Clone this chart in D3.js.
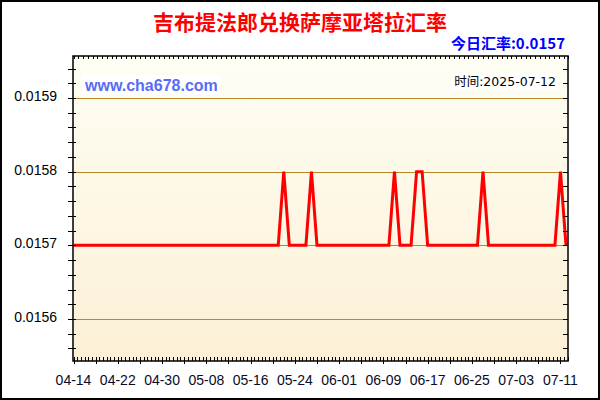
<!DOCTYPE html>
<html>
<head>
<meta charset="utf-8">
<script src="https://cdn.jsdelivr.net/npm/d3@7"></script>
<style>
  body { margin: 0; background: #fff; }
  svg { display: block; }
</style>
</head>
<body>
<div id="chart"></div>
<script>
// daily dates, 2025-04-14 .. 2025-07-12
const dates = [
  "04-14","04-15","04-16","04-17","04-18","04-19","04-20","04-21","04-22","04-23",
  "04-24","04-25","04-26","04-27","04-28","04-29","04-30","05-01","05-02","05-03",
  "05-04","05-05","05-06","05-07","05-08","05-09","05-10","05-11","05-12","05-13",
  "05-14","05-15","05-16","05-17","05-18","05-19","05-20","05-21","05-22","05-23",
  "05-24","05-25","05-26","05-27","05-28","05-29","05-30","05-31","06-01","06-02",
  "06-03","06-04","06-05","06-06","06-07","06-08","06-09","06-10","06-11","06-12",
  "06-13","06-14","06-15","06-16","06-17","06-18","06-19","06-20","06-21","06-22",
  "06-23","06-24","06-25","06-26","06-27","06-28","06-29","06-30","07-01","07-02",
  "07-03","07-04","07-05","07-06","07-07","07-08","07-09","07-10","07-11","07-12"
];

const rates = [
  0.0157,0.0157,0.0157,0.0157,0.0157,0.0157,0.0157,0.0157,0.0157,0.0157,
  0.0157,0.0157,0.0157,0.0157,0.0157,0.0157,0.0157,0.0157,0.0157,0.0157,
  0.0157,0.0157,0.0157,0.0157,0.0157,0.0157,0.0157,0.0157,0.0157,0.0157,
  0.0157,0.0157,0.0157,0.0157,0.0157,0.0157,0.0157,0.0157,0.0158,0.0157,
  0.0157,0.0157,0.0157,0.0158,0.0157,0.0157,0.0157,0.0157,0.0157,0.0157,
  0.0157,0.0157,0.0157,0.0157,0.0157,0.0157,0.0157,0.0157,0.0158,0.0157,
  0.0157,0.0157,0.0158,0.0158,0.0157,0.0157,0.0157,0.0157,0.0157,0.0157,
  0.0157,0.0157,0.0157,0.0157,0.0158,0.0157,0.0157,0.0157,0.0157,0.0157,
  0.0157,0.0157,0.0157,0.0157,0.0157,0.0157,0.0157,0.0157,0.0158,0.0157
];

const yTicks = [0.0156, 0.0157, 0.0158, 0.0159];
const xLabels = ["04-14","04-22","04-30","05-08","05-16","05-24","06-01","06-09","06-17","06-25","07-03","07-11"];

const titleText = "吉布提法郎兑换萨摩亚塔拉汇率";
const todayText = "今日汇率:0.0157";
const siteText = "www.cha678.com";
const timeText = "时间:2025-07-12";

const W = 600, H = 400;
const plot = { left: 73, right: 568, top: 56, bottom: 361 };

const svg = d3.select("#chart")
  .append("svg")
  .attr("width", W)
  .attr("height", H);

// outer frame
svg.append("rect")
  .attr("x", 1).attr("y", 1)
  .attr("width", W - 2).attr("height", H - 2)
  .attr("fill", "#fff")
  .attr("stroke", "#000")
  .attr("stroke-width", 2);

const defs = svg.append("defs");
const grad = defs.append("linearGradient")
  .attr("id", "bg")
  .attr("x1", 0).attr("y1", 0).attr("x2", 0).attr("y2", 1);
grad.append("stop").attr("offset", "0%").attr("stop-color", "#fefef4");
grad.append("stop").attr("offset", "100%").attr("stop-color", "#fcf0d6");

svg.append("rect")
  .attr("x", plot.left).attr("y", plot.top)
  .attr("width", plot.right - plot.left)
  .attr("height", plot.bottom - plot.top)
  .attr("fill", "url(#bg)");

const x = d3.scalePoint()
  .domain(dates)
  .range([73.5, 566]);

const xi = d3.scaleLinear()
  .domain([0, dates.length - 1])
  .range([73.5, 566]);

const y = d3.scaleLinear()
  .domain([0.015543, 0.015957])
  .range([plot.bottom, plot.top]);

// horizontal grid lines
svg.append("g")
  .selectAll("line")
  .data(yTicks)
  .enter()
  .append("line")
  .attr("x1", plot.left).attr("x2", plot.right)
  .attr("y1", d => Math.round(y(d)) + 0.5)
  .attr("y2", d => Math.round(y(d)) + 0.5)
  .attr("stroke", "#b8862b")
  .attr("stroke-width", 1);

// rate line
const line = d3.line()
  .x((d, i) => x(dates[i]))
  .y(d => y(d));

svg.append("path")
  .datum(rates)
  .attr("fill", "none")
  .attr("stroke", "#ff0000")
  .attr("stroke-width", 3)
  .attr("stroke-linejoin", "miter")
  .attr("d", line);

// plot border
svg.append("rect")
  .attr("x", plot.left).attr("y", plot.top)
  .attr("width", plot.right - plot.left)
  .attr("height", plot.bottom - plot.top)
  .attr("fill", "none")
  .attr("stroke", "#000")
  .attr("stroke-width", 1.5);

// left axis ticks (minor every 0.00002)
const yMinor = d3.range(0.01556, 0.01596, 0.00002);
svg.append("g")
  .selectAll("line")
  .data(yMinor)
  .enter()
  .append("line")
  .attr("x1", plot.left - 5).attr("x2", plot.left + 3)
  .attr("y1", d => Math.round(y(d)) + 0.5)
  .attr("y2", d => Math.round(y(d)) + 0.5)
  .attr("stroke", "#000");

// right axis ticks
svg.append("g")
  .selectAll("line")
  .data(yMinor)
  .enter()
  .append("line")
  .attr("x1", plot.right - 5).attr("x2", plot.right)
  .attr("y1", d => Math.round(y(d)) + 0.5)
  .attr("y2", d => Math.round(y(d)) + 0.5)
  .attr("stroke", "#000");

// y labels
svg.append("g")
  .selectAll("text")
  .data(yTicks)
  .enter()
  .append("text")
  .attr("x", 57)
  .attr("y", d => y(d) + 3)
  .attr("text-anchor", "end")
  .attr("font-family", "Liberation Sans, Arial, sans-serif")
  .attr("font-size", 14)
  .attr("fill", "#000")
  .text(d => d.toFixed(4));

// bottom axis ticks
const xMinor = d3.range(0, dates.length - 0.5, 2 / 3);
svg.append("g")
  .selectAll("line")
  .data(xMinor)
  .enter()
  .append("line")
  .attr("x1", d => Math.round(xi(d)) + 0.5)
  .attr("x2", d => Math.round(xi(d)) + 0.5)
  .attr("y1", plot.bottom - 4)
  .attr("y2", (d, i) => i % 6 === 0 ? plot.bottom + 3 : plot.bottom)
  .attr("stroke", "#000");

// top axis ticks
const xTop = d3.range(0, dates.length - 0.5, 0.86);
svg.append("g")
  .selectAll("line")
  .data(xTop)
  .enter()
  .append("line")
  .attr("x1", d => Math.round(xi(d)) + 0.5)
  .attr("x2", d => Math.round(xi(d)) + 0.5)
  .attr("y1", plot.top)
  .attr("y2", plot.top + 3)
  .attr("stroke", "#000");

// x labels
svg.append("g")
  .selectAll("text")
  .data(xLabels)
  .enter()
  .append("text")
  .attr("x", d => x(d))
  .attr("y", 385)
  .attr("text-anchor", "middle")
  .attr("font-family", "Liberation Sans, Arial, sans-serif")
  .attr("font-size", 14)
  .attr("fill", "#0a0a28")
  .text(d => d);

// title
svg.append("text")
  .attr("x", 300)
  .attr("y", 30)
  .attr("text-anchor", "middle")
  .attr("font-family", "Noto Sans CJK SC, sans-serif")
  .attr("font-size", 21)
  .attr("font-weight", "bold")
  .attr("fill", "#ff0000")
  .text(titleText);

svg.append("text")
  .attr("x", 565)
  .attr("y", 49)
  .attr("text-anchor", "end")
  .attr("font-family", "Noto Sans CJK SC, sans-serif")
  .attr("font-size", 15)
  .attr("font-weight", "bold")
  .attr("fill", "#0000ff")
  .text(todayText);

// watermark site
svg.append("rect")
  .attr("x", 82).attr("y", 75)
  .attr("width", 138).attr("height", 20)
  .attr("fill", "#fff");

svg.append("text")
  .attr("x", 85)
  .attr("y", 91)
  .attr("font-family", "Liberation Sans, Arial, sans-serif")
  .attr("font-size", 16)
  .attr("font-weight", "bold")
  .attr("fill", "#5a6cf5")
  .text(siteText);

// time stamp
svg.append("rect")
  .attr("x", 451).attr("y", 73)
  .attr("width", 107).attr("height", 17)
  .attr("fill", "#fff");

svg.append("text")
  .attr("x", 556)
  .attr("y", 86)
  .attr("text-anchor", "end")
  .attr("font-family", "DejaVu Sans, Noto Sans CJK SC, sans-serif")
  .attr("font-size", 12.5)
  .attr("fill", "#000")
  .text(timeText);
</script>
</body>
</html>
